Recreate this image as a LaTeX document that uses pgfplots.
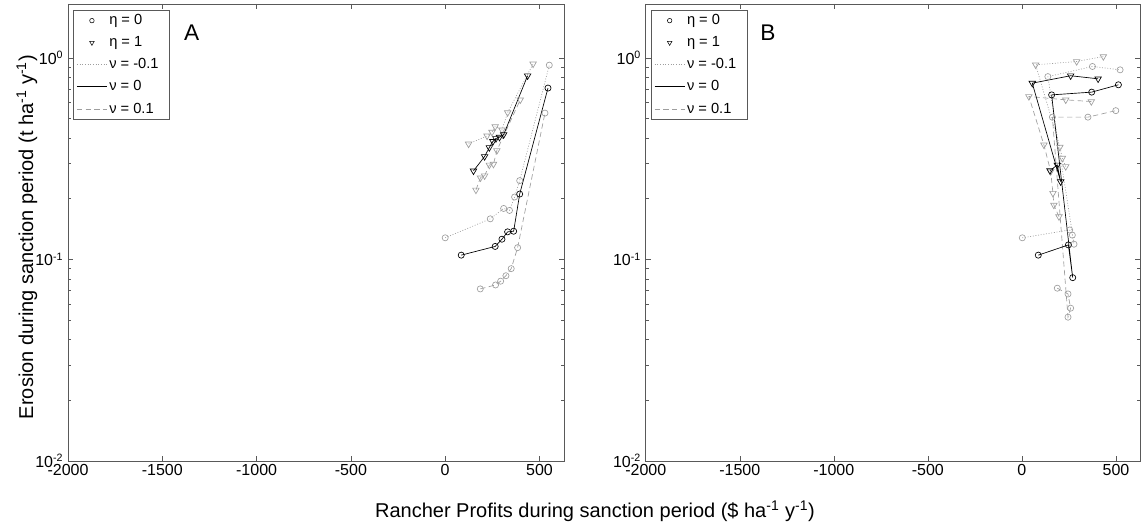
\documentclass[border=0pt]{standalone}
\usepackage{fontspec}
\setmainfont{Liberation Sans}
\usepackage{pgfplots}
\pgfplotsset{compat=1.18}

\definecolor{lg}{gray}{0.62}
\definecolor{ax}{gray}{0.35}

\pgfplotsset{
  every axis/.append style={
    scale only axis, height=342.75pt,
    xmin=-2000, xmax=630, ymode=log, ymin=0.01, ymax=1.85,
    xtick={-2000,-1500,-1000,-500,0,500},
    xticklabels={-2000,-1500,-1000,-500,0,500},
    ytick={0.01,0.1,1},
    yticklabels={10\textsuperscript{-2},10\textsuperscript{-1},10\textsuperscript{0}},
    minor ytick={0.02,0.03,0.04,0.05,0.06,0.07,0.08,0.09,0.2,0.3,0.4,0.5,0.6,0.7,0.8,0.9},
    tick align=inside, major tick length=4pt, minor tick length=2.2pt,
    xtick pos=both, ytick pos=both,
    axis line style={ax, line width=0.5pt},
    every tick/.style={ax, line width=0.4pt},
    every minor tick/.style={ax, line width=0.4pt},
    tick label style={font=\fontsize{12}{14}\selectfont, black},
    xticklabel style={yshift=1pt},
    legend style={at={(0,1)}, anchor=north west, xshift=3.75pt, yshift=-4.5pt,
      draw=ax, fill=white, font=\fontsize{11}{13}\selectfont,
      inner xsep=2.5pt, inner ysep=2.2pt, row sep=5.4pt,
      nodes={inner xsep=1.5pt, inner ysep=1pt}},
    legend cell align=left,
    legend image code/.code={%
      \draw[#1] (0pt,0pt) -- (22.5pt,0pt);
      \draw[#1, solid] plot coordinates {(11.25pt,0pt)};},
  },
  myEtaZero/.style={mark=o, mark size=2.3pt, mark options={solid}},
  myEtaOne/.style={mark=triangle, mark size=2.8pt, mark options={solid, rotate=180}},
  myNuZero/.style={black, solid, line width=0.5pt},
  myNuMinus/.style={lg, dash pattern=on 0.7pt off 1.3pt, line width=0.5pt},
  myNuPlus/.style={lg, dash pattern=on 4pt off 2.5pt, line width=0.5pt},
}

\newcommand{\legendset}{%
  \addlegendimage{black, line width=0pt, draw opacity=0, mark=o, mark size=1.7pt, mark options={draw opacity=1, line width=0.4pt}}
  \addlegendentry{η = 0}
  \addlegendimage{black, line width=0pt, draw opacity=0, mark=triangle, mark size=2pt, mark options={rotate=180, draw opacity=1, line width=0.4pt}}
  \addlegendentry{η = 1}
  \addlegendimage{myNuMinus}
  \addlegendentry{ν = -0.1\hspace*{4pt}}
  \addlegendimage{myNuZero}
  \addlegendentry{ν = 0}
  \addlegendimage{myNuPlus}
  \addlegendentry{ν = 0.1}
}

\begin{document}
\begin{tikzpicture}
\useasboundingbox (0,0) rectangle (855.75pt,393pt);

% Panel A
\begin{axis}[width=372pt, at={(51pt,47.25pt)}, anchor=south west]
\legendset
% eta = 0
\addplot[myNuMinus, myEtaZero, forget plot] coordinates {(0,0.128) (239,0.159) (310,0.179) (341,0.175) (368,0.204) (395,0.246) (552,0.92)};
\addplot[myNuPlus, myEtaZero, forget plot] coordinates {(186,0.0714) (267,0.0747) (294,0.078) (322,0.083) (350,0.090) (384,0.1144) (529,0.532)};
% eta = 1
\addplot[myNuMinus, myEtaOne, forget plot] coordinates {(124,0.374) (222,0.410) (248,0.428) (265,0.456) (301,0.439) (331,0.535) (466,0.933)};
\addplot[myNuPlus, myEtaOne, forget plot] coordinates {(163,0.221) (187,0.254) (209,0.260) (234,0.294) (256,0.297) (274,0.347) (398,0.619)};
\addplot[myNuZero, myEtaZero, forget plot] coordinates {(85,0.105) (265,0.116) (301,0.126) (331,0.137) (363,0.138) (395,0.211) (545,0.708)};
\addplot[myNuZero, myEtaOne, forget plot] coordinates {(150,0.275) (209,0.324) (234,0.359) (253,0.385) (269,0.398) (288,0.404) (310,0.416) (437,0.815)};
\end{axis}

% Panel B
\begin{axis}[width=371pt, at={(484.3pt,47.25pt)}, anchor=south west]
\legendset
\addplot[myNuMinus, myEtaZero, forget plot] coordinates {(2,0.128) (254,0.140) (268,0.132) (277,0.119) (138,0.807) (375,0.906) (522,0.872)};
\addplot[myNuPlus, myEtaZero, forget plot] coordinates {(188,0.072) (245,0.0674) (259,0.0573) (245,0.0517) (162,0.508) (351,0.508) (499,0.547)};
\addplot[myNuMinus, myEtaOne, forget plot] coordinates {(233,0.289) (215,0.318) (202,0.361) (73,0.923) (291,0.959) (433,1.015)};
\addplot[myNuPlus, myEtaOne, forget plot] coordinates {(197,0.163) (170,0.186) (165,0.213) (153,0.273) (117,0.370) (37,0.643) (233,0.619) (369,0.607)};
\addplot[myNuZero, myEtaZero, forget plot] coordinates {(87,0.105) (247,0.118) (270,0.0812) (158,0.655) (371,0.676) (513,0.735)};
\addplot[myNuZero, myEtaOne, forget plot] coordinates {(149,0.276) (188,0.294) (206,0.243) (55,0.749) (259,0.815) (405,0.787)};
\end{axis}

\node[font=\fontsize{17}{20}\selectfont] at (143.8pt,368.25pt) {A};
\node[font=\fontsize{17}{20}\selectfont] at (576pt,368.25pt) {B};
\node[font=\fontsize{15}{18}\selectfont] at (446.25pt,9.75pt) {Rancher Profits during sanction period (\$ ha\textsuperscript{-1} y\textsuperscript{-1})};
\node[font=\fontsize{15}{18}\selectfont, rotate=90, anchor=base] at (24.75pt,215.25pt) {Erosion during sanction period (t ha\textsuperscript{-1} y\textsuperscript{-1})};
\end{tikzpicture}
\end{document}
